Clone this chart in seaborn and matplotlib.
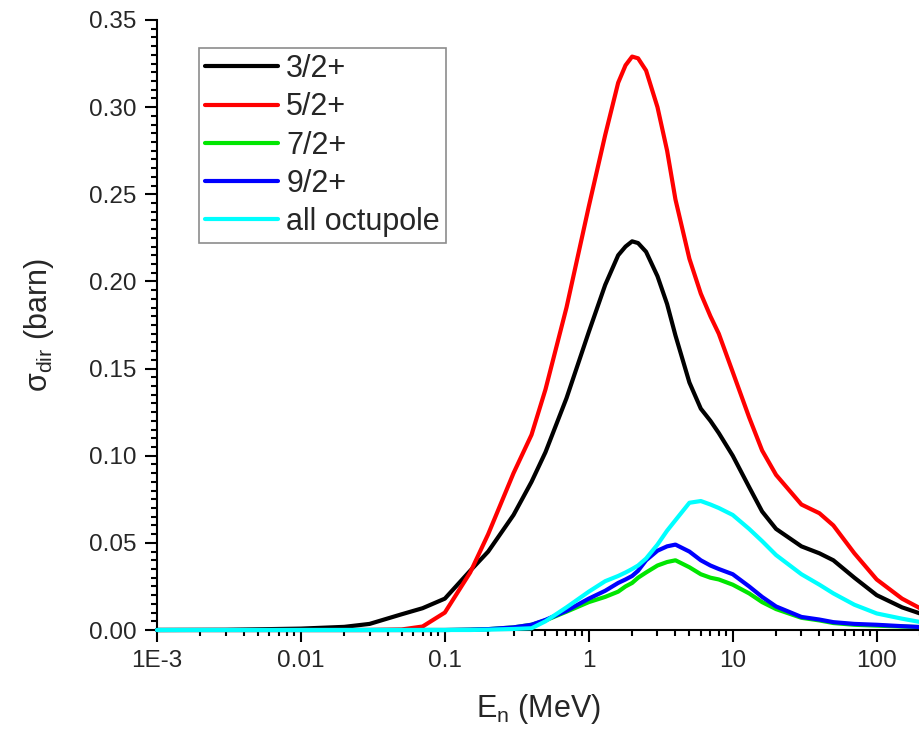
import matplotlib
matplotlib.use('Agg')
import matplotlib.pyplot as plt
import matplotlib.ticker as mticker
import pandas as pd
import seaborn as sns

# Data (E in MeV, sigma in barn)
energy = [0.001, 0.003, 0.01, 0.02, 0.03, 0.05, 0.07, 0.1, 0.15, 0.2, 0.3, 0.4, 0.5,
          0.7, 1.0, 1.3, 1.6, 1.8, 2.0, 2.2, 2.5, 3.0, 3.5, 4.0, 5.0, 6.0, 7.0, 8.0,
          10, 13, 16, 20, 30, 40, 50, 70, 100, 150, 200]
s_3_2 = [0, 0.0001, 0.0008, 0.0018, 0.0035, 0.009, 0.0125, 0.018, 0.034, 0.045, 0.066,
         0.085, 0.102, 0.133, 0.171, 0.198, 0.215, 0.220, 0.223, 0.222, 0.217, 0.203,
         0.187, 0.169, 0.142, 0.127, 0.120, 0.113, 0.100, 0.082, 0.068, 0.058, 0.048,
         0.044, 0.040, 0.030, 0.020, 0.013, 0.0095]
s_5_2 = [0, 0, 0, 0, 0, 0.0003, 0.002, 0.010, 0.033, 0.055, 0.090, 0.112, 0.138, 0.185,
         0.243, 0.284, 0.314, 0.324, 0.329, 0.328, 0.321, 0.300, 0.275, 0.247, 0.213,
         0.193, 0.180, 0.170, 0.148, 0.122, 0.103, 0.089, 0.072, 0.067, 0.060, 0.044,
         0.029, 0.018, 0.0125]
s_7_2 = [0, 0, 0, 0, 0, 0, 0, 0, 0.0002, 0.0005, 0.0015, 0.003, 0.0055, 0.0105, 0.016,
         0.019, 0.022, 0.025, 0.027, 0.030, 0.033, 0.037, 0.039, 0.040, 0.036, 0.032,
         0.030, 0.029, 0.026, 0.021, 0.016, 0.012, 0.007, 0.0055, 0.004, 0.003, 0.0025,
         0.002, 0.0017]
s_9_2 = [0, 0, 0, 0, 0, 0, 0, 0, 0.0002, 0.0005, 0.0015, 0.003, 0.0058, 0.011, 0.018,
         0.0225, 0.027, 0.029, 0.031, 0.034, 0.040, 0.0455, 0.048, 0.049, 0.045, 0.040,
         0.037, 0.035, 0.032, 0.025, 0.019, 0.0135, 0.0075, 0.006, 0.0045, 0.0035,
         0.003, 0.0022, 0.0017]
s_oct = [0, 0, 0, 0, 0, 0, 0, 0, 0, 0.0002, 0.0006, 0.001, 0.005, 0.013, 0.022, 0.028,
         0.031, 0.033, 0.035, 0.037, 0.041, 0.049, 0.057, 0.063, 0.073, 0.074, 0.072,
         0.070, 0.066, 0.058, 0.051, 0.043, 0.032, 0.026, 0.021, 0.0145, 0.0095,
         0.0065, 0.0046]

labels = ['3/2+', '5/2+', '7/2+', '9/2+', 'all octupole']
colors = ['#000000', '#ff0000', '#00e600', '#0000ff', '#00ffff']

frames = []
for lab, vals in zip(labels, [s_3_2, s_5_2, s_7_2, s_9_2, s_oct]):
    frames.append(pd.DataFrame({'E': energy, 'sigma': vals, 'state': lab}))
df = pd.concat(frames, ignore_index=True)

sns.set_style('ticks')
plt.rcParams['font.family'] = ['Liberation Sans', 'DejaVu Sans']
plt.rcParams['mathtext.fontset'] = 'custom'
plt.rcParams['mathtext.rm'] = 'Liberation Sans'

fig = plt.figure(figsize=(9.19, 7.29), dpi=100)
ax = fig.add_axes([0.1708, 0.1358, 0.8303, 0.8368])

sns.lineplot(data=df, x='E', y='sigma', hue='state', hue_order=labels,
             palette=colors, linewidth=3.0, ax=ax, clip_on=False, zorder=3,
             estimator=None)

ax.set_xscale('log')
ax.set_xlim(1e-3, 200)
ax.set_ylim(0, 0.35)

ax.xaxis.set_major_locator(mticker.FixedLocator([1e-3, 1e-2, 1e-1, 1, 10, 100]))
ax.xaxis.set_major_formatter(mticker.FixedFormatter(['1E-3', '0.01', '0.1', '1', '10', '100']))
ax.xaxis.set_minor_locator(mticker.LogLocator(base=10, subs=range(2, 10), numticks=20))
ax.xaxis.set_minor_formatter(mticker.NullFormatter())
ax.yaxis.set_major_locator(mticker.MultipleLocator(0.05))
ax.yaxis.set_minor_locator(mticker.MultipleLocator(0.005))
ax.yaxis.set_major_formatter(mticker.FormatStrFormatter('%.2f'))

for side in ['top', 'right']:
    ax.spines[side].set_visible(False)
for side in ['left', 'bottom']:
    ax.spines[side].set_linewidth(1.5)
    ax.spines[side].set_color('black')

ax.tick_params(which='major', direction='out', length=8.5, width=1.5,
               labelsize=17.5, pad=6, color='black')
ax.tick_params(which='minor', direction='out', length=4.3, width=1.5, color='black')

ax.set_xlabel(r'E$_{\mathrm{n}}$ (MeV)', fontsize=22, labelpad=14)
ax.set_ylabel(r'σ$_{\mathrm{dir}}$ (barn)', fontsize=22, labelpad=24)

leg = ax.legend(loc='upper left', bbox_to_anchor=(0.055, 0.954), borderaxespad=0,
                fontsize=22, frameon=True, fancybox=False, handlelength=2.4,
                handletextpad=0.26, labelspacing=0.27, borderpad=0.2)
leg.get_frame().set_edgecolor('#707070')
leg.get_frame().set_linewidth(1.2)
for h in leg.get_lines():
    h.set_linewidth(3.0)

fig.savefig('out.png', dpi=100)
